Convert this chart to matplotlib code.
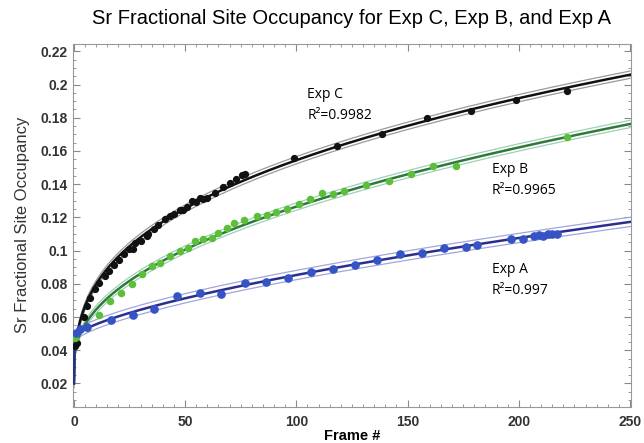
import matplotlib
matplotlib.use('Agg')
import matplotlib.pyplot as plt
from matplotlib.ticker import MultipleLocator, FuncFormatter
import numpy as np

plt.rcParams['font.family'] = ['Liberation Sans', 'DejaVu Sans']

# data (frame #, Sr fractional site occupancy)
start_occupancy = 0.02

exp_c_frame = [0.6, 1.2, 2.8, 4.4, 5.9, 7.4, 9.6, 11.1, 14.1, 15.6, 17.9, 20.1, 22.4, 24.6,
               26.7, 27.6, 30, 32.7, 33.5, 36, 38, 41, 43.2, 45, 47.7, 49, 51, 53, 55, 56.8,
               58, 60, 63.5, 67, 70, 73, 75.5, 77, 98.8, 118.3, 138.3, 158.6, 178.4, 198.6, 221.6]
exp_c_occ = [0.0425, 0.0445, 0.0525, 0.060, 0.0665, 0.0716, 0.0766, 0.0806, 0.0846, 0.0876,
             0.0916, 0.0946, 0.0977, 0.1007, 0.1007, 0.1047, 0.106, 0.1087, 0.1097, 0.113,
             0.1157, 0.119, 0.1207, 0.122, 0.1247, 0.1245, 0.126, 0.1297, 0.129, 0.1318,
             0.131, 0.1315, 0.1348, 0.138, 0.141, 0.143, 0.1458, 0.146, 0.1559, 0.1629,
             0.170, 0.180, 0.1843, 0.1906, 0.196]

exp_b_frame = [0.6, 5.9, 11.1, 16.4, 21.3, 26, 30.5, 35, 38.7, 43.2, 47.7, 51.5, 54.5, 58.2,
               62, 65, 68.8, 71.8, 76.3, 82.3, 86.8, 91, 96, 101, 106, 111.6, 116.5, 121.3,
               131.5, 141.6, 151.4, 161.6, 171.6, 221.6]
exp_b_occ = [0.0475, 0.0531, 0.0615, 0.0695, 0.0742, 0.080, 0.0856, 0.0906, 0.0927, 0.0966,
             0.0996, 0.1017, 0.1057, 0.1067, 0.1077, 0.1107, 0.1137, 0.1167, 0.1187, 0.1207,
             0.1217, 0.123, 0.125, 0.128, 0.131, 0.1348, 0.1338, 0.1358, 0.1392, 0.1422,
             0.1464, 0.1508, 0.1512, 0.1685]

exp_a_frame = [1, 2.7, 6, 16.5, 26.4, 36, 46.5, 56.5, 66.2, 76.7, 86.5, 96.4, 106.6, 116.5,
               126.3, 136.3, 146.4, 156.6, 166.4, 176.4, 181.4, 196.4, 201.7, 206.9, 209,
               211, 213, 215, 217]
exp_a_occ = [0.0505, 0.0525, 0.054, 0.0581, 0.0615, 0.0651, 0.0726, 0.0746, 0.074, 0.0806,
             0.081, 0.0832, 0.0872, 0.0892, 0.0916, 0.0946, 0.0981, 0.0983, 0.1017, 0.1023,
             0.1033, 0.1067, 0.1071, 0.1087, 0.1095, 0.109, 0.1098, 0.110, 0.1102]

labels = [('Exp C', '0.9982'), ('Exp B', '0.9965'), ('Exp A', '0.997')]
label_pos = [(105, 0.194), (188, 0.1488), (188, 0.0886)]


def fit_curve(x, y, xs):
    # y = y0 + A*(1-exp(-x/tau)) + B*x^c, weighted grid search over tau and c
    x = np.asarray(x, float)
    y = np.asarray(y, float) - start_occupancy
    w = np.sqrt(np.clip(np.gradient(x), 1.0, None))
    best = None
    for tau in [0.2, 0.4, 0.7, 1.0, 1.5, 2.0, 3.0, 5.0]:
        for c in np.arange(0.2, 0.9, 0.01):
            M = np.column_stack([1 - np.exp(-x / tau), x ** c])
            coef, *_ = np.linalg.lstsq(M * w[:, None], y * w, rcond=None)
            if np.any(coef < 0):
                continue
            err = np.sum(((M @ coef - y) * w) ** 2)
            if best is None or err < best[0]:
                best = (err, tau, c, coef)
    _, tau, c, coef = best
    return start_occupancy + coef[0] * (1 - np.exp(-xs / tau)) + coef[1] * xs ** c


fig = plt.figure(figsize=(6.44, 4.43), dpi=100)
ax = fig.add_axes([0.113, 0.082, 0.867, 0.819])

xs = np.linspace(0, 250, 800)
series = [
    (exp_c_frame, exp_c_occ, '#111111', '#111111', '#9a9a9a', 'o', 4.2, 0.0022),
    (exp_b_frame, exp_b_occ, '#5cbf3a', '#2f7a3a', '#9fd0b8', 'o', 4.4, 0.0022),
    (exp_a_frame, exp_a_occ, '#3553c4', '#2b2e8f', '#a0a6dc', 'o', 5.2, 0.0028),
]
for fx, fy, pcol, lcol, bcol, mk, ms, bw in series:
    yf = fit_curve(fx, fy, xs)
    ax.plot(xs, yf + bw, color=bcol, lw=0.9, zorder=2)
    ax.plot(xs, yf - bw, color=bcol, lw=0.9, zorder=2)
    ax.plot(xs, yf, color=lcol, lw=1.8, zorder=3)
    ax.plot(fx, fy, mk, color=pcol, ms=ms, zorder=4)

for (name, r2), (lx, ly) in zip(labels, label_pos):
    ax.text(lx, ly, name, fontsize=10, family=['Open Sans', 'DejaVu Sans'], va='center')
    ax.text(lx, ly - 0.0128, 'R\u00b2=' + r2, fontsize=10,
            family=['Open Sans', 'DejaVu Sans'], va='center')

ax.set_xlim(-0.5, 250.5)
ax.set_ylim(0.006, 0.2245)
ax.xaxis.set_major_locator(MultipleLocator(50))
ax.xaxis.set_minor_locator(MultipleLocator(5))
ax.yaxis.set_major_locator(MultipleLocator(0.02))
ax.yaxis.set_minor_locator(MultipleLocator(0.005))
ax.yaxis.set_major_formatter(FuncFormatter(lambda v, p: ('%.2f' % v).rstrip('0').rstrip('.')))
ax.tick_params(which='both', direction='in', top=True, right=True, color='#888888')
ax.tick_params(which='major', length=5, labelsize=10)
ax.tick_params(axis='x', which='major', pad=6)
ax.tick_params(which='minor', length=2.5)
for lab in ax.get_xticklabels() + ax.get_yticklabels():
    lab.set_fontweight('bold')
    lab.set_color('#333333')
for sp in ax.spines.values():
    sp.set_color('#999999')

ax.set_title('Sr Fractional Site Occupancy for Exp C, Exp B, and Exp A', fontsize=14.5, pad=14)
ax.set_xlabel('Frame #', fontsize=10.5, fontweight='bold', labelpad=0)
ax.set_ylabel('Sr Fractional Site Occupancy', fontsize=12, labelpad=8, color='#333333')

fig.savefig('out.png', dpi=100)
